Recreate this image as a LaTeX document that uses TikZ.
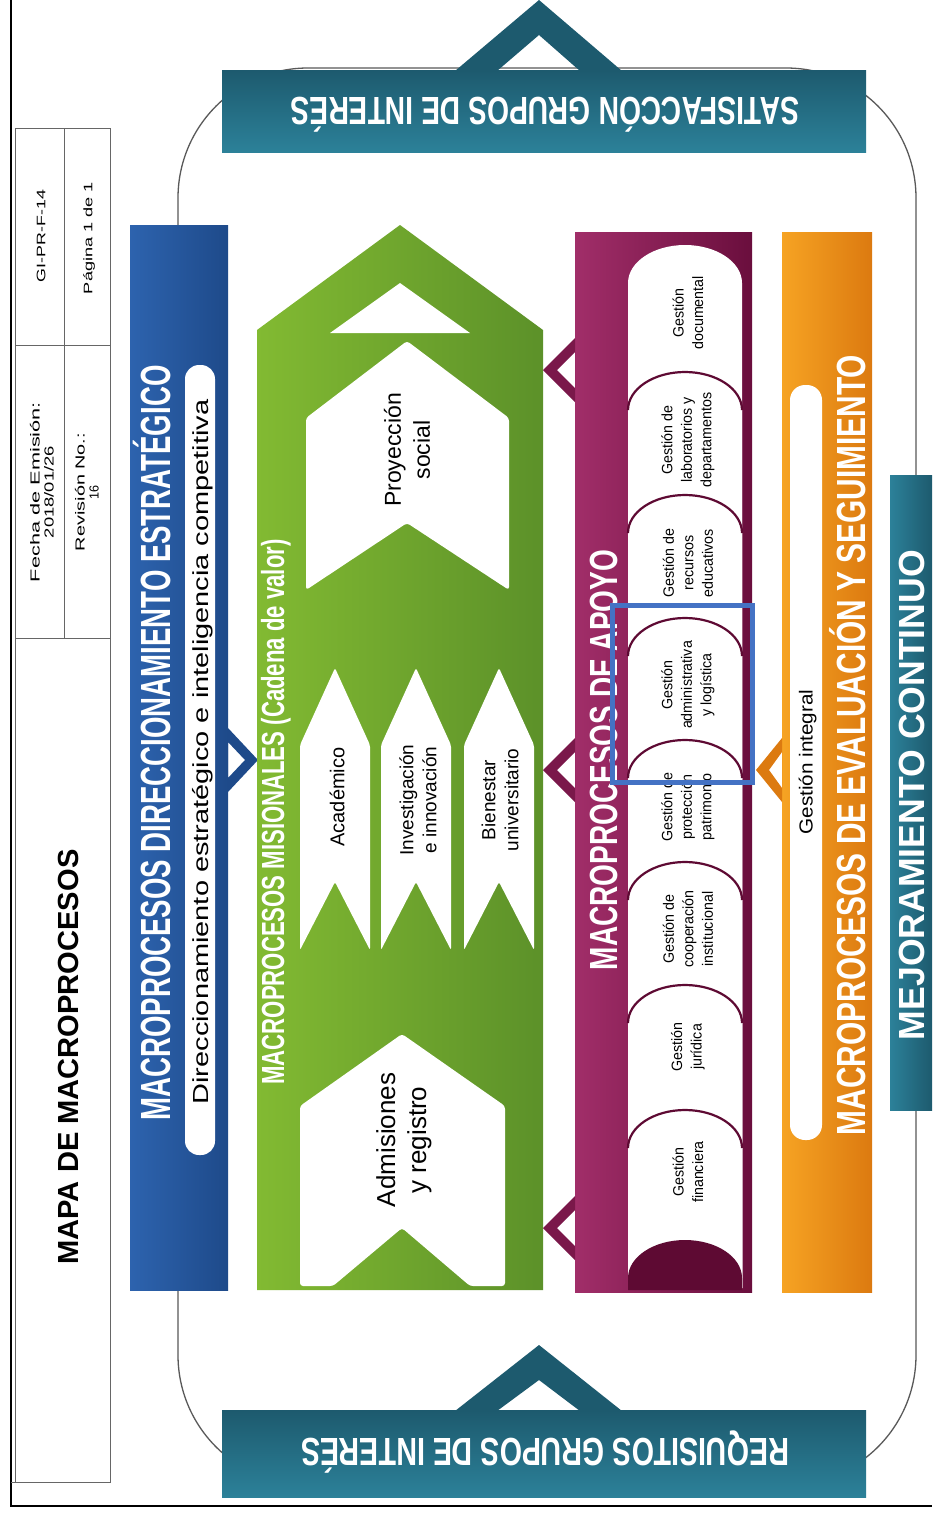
\documentclass[tikz,border=0pt]{standalone}
\usepackage{fontspec}
\usepackage{graphicx}
\setmainfont{Liberation Sans}
\newfontfamily\cnd[FakeStretch=0.72]{Liberation Sans}
\newfontfamily\cnp[FakeStretch=0.82]{Liberation Sans}
\newfontfamily\cnq[FakeStretch=0.95]{Liberation Sans}
\newcommand\capfit[3]{\resizebox{#1}{#2}{\rule{0pt}{\fontcharht\font`X}\smash{#3}}}
\definecolor{bluL}{HTML}{2D63AE}
\definecolor{bluR}{HTML}{1E4A8A}
\definecolor{tealA}{HTML}{1D5A6E}
\definecolor{tealB}{HTML}{2C8199}
\definecolor{grnL}{HTML}{82BA32}
\definecolor{grnR}{HTML}{5C9129}
\definecolor{magL}{HTML}{A12E69}
\definecolor{magR}{HTML}{6A0E3D}
\definecolor{magD}{HTML}{5E0A33}
\definecolor{orgL}{HTML}{F6A323}
\definecolor{orgR}{HTML}{DC7A10}
\definecolor{hlb}{HTML}{4472C4}
\begin{document}
\begin{tikzpicture}[x=1pt,y=1pt,
  ttl/.style={rotate=90,text=white,font=\cnd\bfseries,inner sep=0pt},
  ttlh/.style={rotate=180,text=white,font=\cnd\bfseries,inner sep=0pt},
  lbl/.style={rotate=90,align=center,inner sep=0pt},
  pilltxt/.style={rotate=90,align=center,inner sep=0pt,font=\cnq\fontsize{15}{19.5}\selectfont},
  tline/.style={draw=black!60,line width=0.8pt},
  chev/.style={even odd rule}]

\useasboundingbox (0,0) rectangle (932,-1513);
\fill[white] (0,0) rectangle (932,-1513);

% loop outline
\draw[black!65,line width=1.3pt,rounded corners=130pt] (178,-68) rectangle (916,-1485);

% frame
\draw[black,line width=1.2pt] (11,0) -- (11,-1506) -- (932,-1506);

% header table
\draw[tline] (15,-1482) -- (15,-128) -- (110,-128) -- (110,-1482) -- (11,-1482);
\draw[tline] (15,-345) -- (110,-345);
\draw[tline] (15,-638) -- (110,-638);
\draw[tline] (64,-128) -- (64,-638);
\node[lbl,font=\fontsize{11}{14}\selectfont] (code) at (41,-236) {\capfit{92pt}{8.5pt}{GI-PR-F-14}};
\node[lbl,font=\fontsize{11}{14}\selectfont] (pag) at (88,-238) {\capfit{112pt}{8.5pt}{Página 1 de 1}};
\node[lbl,font=\fontsize{11}{14}\selectfont] (fecha1) at (35,-492) {\capfit{180pt}{9pt}{Fecha de Emisión:}};
\node[lbl,font=\fontsize{11}{14}\selectfont] (fecha2) at (49,-492) {\capfit{92pt}{9pt}{2018/01/26}};
\node[lbl,font=\fontsize{11}{14}\selectfont] (rev1) at (80,-492) {\capfit{118pt}{9pt}{Revisión No.:}};
\node[lbl,font=\fontsize{11}{14}\selectfont] (rev2) at (94,-492) {\capfit{14pt}{9pt}{16}};
\node[lbl,font=\bfseries] (mapa) at (68,-1057) {\capfit{415pt}{20pt}{MAPA DE MACROPROCESOS}};

% top bar
\shade[top color=tealA,bottom color=tealB] (222,-70) rectangle (866,-152);
\fill[tealA,chev] (455,-71) -- (539,0) -- (622,-71) -- cycle (497,-71) -- (539,-35) -- (580,-71) -- cycle;
\node[ttlh] (sat) at (545,-111) {\capfit{508pt}{27pt}{SATISFACCÓN GRUPOS DE INTERÉS}};

% bottom bar
\shade[top color=tealA,bottom color=tealB] (222,-1410) rectangle (866,-1497);
\fill[tealA,chev] (455,-1411) -- (539,-1345) -- (622,-1411) -- cycle (497,-1411) -- (539,-1380) -- (580,-1411) -- cycle;
\node[ttlh] (req) at (545,-1452) {\capfit{488pt}{27pt}{REQUISITOS GRUPOS DE INTERÉS}};

% blue bar
\shade[left color=bluL,right color=bluR] (130,-225) rectangle (228,-1290);
\fill[white,rounded corners=14pt] (185,-365) rectangle (215,-1155);
\node[ttl] (dir) at (156,-743) {\capfit{755pt}{29pt}{MACROPROCESOS DIRECCIONAMIENTO ESTRATÉGICO}};
\node[lbl,font=\cnp] (dirsub) at (201,-752) {\capfit{705pt}{15pt}{Direccionamiento estratégico e inteligencia competitiva}};
\fill[bluR,chev] (228,-728) -- (258,-760) -- (228,-792) -- cycle (228,-742) -- (245,-760) -- (228,-778) -- cycle;

% green value chain
\shade[left color=grnL,right color=grnR] (257,-1290) -- (257,-330) -- (400,-225) -- (543,-330) -- (543,-1290) -- cycle;
\fill[white] (330,-333) -- (400,-283) -- (470,-333) -- cycle;
\fill[white,rounded corners=3pt] (306,-418) -- (407,-341) -- (509,-418) -- (509,-590) -- (407,-523) -- (306,-590) -- cycle;
\foreach \c in {335,416,499}{
  \fill[white,rounded corners=2pt] (\c-35,-745) -- (\c,-668) -- (\c+35,-745) -- (\c+35,-950) -- (\c,-882) -- (\c-35,-950) -- cycle;
}
\fill[white,rounded corners=3pt] (300,-1106) -- (402,-1034) -- (505,-1106) -- (505,-1286) -- (470,-1286) -- (402,-1228) -- (333,-1286) -- (300,-1286) -- cycle;
\node[ttl] (mis) at (273,-812) {\capfit{545pt}{22pt}{MACROPROCESOS MISIONALES (Cadena de valor)}};
\node[lbl,font=\fontsize{23}{29}\selectfont] (proy) at (407,-450) {Proyección\\social};
\node[lbl,font=\fontsize{20}{23}\selectfont] (acad) at (337,-797) {Académico};
\node[lbl,font=\fontsize{19}{23}\selectfont] (inv) at (418,-800) {Investigación\\e innovación};
\node[lbl,font=\fontsize{19}{23}\selectfont] (bien) at (500,-800) {Bienestar\\universitario};
\node[lbl,font=\fontsize{26}{31}\selectfont] (adm) at (404,-1140) {Admisiones\\y registro};

% magenta support
\shade[left color=magL,right color=magR] (575,-232) rectangle (752,-1292);
\foreach \y in {370,770,1228}{
  \fill[magR!70!magL,chev] (575,-\y+32) -- (543,-\y) -- (575,-\y-32) -- cycle (575,-\y+18) -- (557,-\y) -- (575,-\y-18) -- cycle;
}
\node[ttl] (apo) at (604,-760) {\capfit{420pt}{27pt}{MACROPROCESOS DE APOYO}};
\foreach \a [count=\i] in {245,372,495,618,740,862,985,1110}{
  \fill[white] (628,{-(\a+38)}) arc[start angle=180,end angle=0,x radius=57,y radius=38] -- (742,-1288) -- (628,-1288) -- cycle;
  \ifnum\i>1 \draw[magD,line width=2.2pt] (628,{-(\a+38)}) arc[start angle=180,end angle=0,x radius=57,y radius=38];\fi
}
\fill[magD] (628,-1278) arc[start angle=180,end angle=0,x radius=57,y radius=38] -- (742,-1290) -- (628,-1290) -- cycle;
\node[pilltxt] (p1) at (688,-313) {Gestión\\documental};
\node[pilltxt] (p2) at (688,-440) {Gestión de\\laboratorios y\\departamentos};
\node[pilltxt] (p3) at (688,-563) {Gestión de\\recursos\\educativos};
\node[pilltxt] (p4) at (688,-685) {Gestión\\administrativa\\y logística};
\node[pilltxt] (p5) at (688,-807) {Gestión de\\protección\\patrimonio};
\node[pilltxt] (p6) at (688,-929) {Gestión de\\cooperación\\institucional};
\node[pilltxt] (p7) at (688,-1047) {Gestión\\jurídica};
\node[pilltxt] (p8) at (688,-1172) {Gestión\\financiera};

% orange evaluation
\shade[left color=orgL,right color=orgR] (782,-232) rectangle (872,-1292);
\fill[white,rounded corners=15pt] (790,-385) rectangle (822,-1140);
\node[ttl] (eva) at (851,-745) {\capfit{780pt}{28pt}{MACROPROCESOS DE EVALUACIÓN Y SEGUIMIENTO}};
\node[lbl,font=\cnp] (gint) at (806,-762) {\capfit{145pt}{13pt}{Gestión integral}};
\fill[orgR,chev] (782,-738) -- (756,-770) -- (782,-802) -- cycle (782,-752) -- (769,-770) -- (782,-788) -- cycle;

% continuous improvement
\shade[left color=tealB,right color=tealA] (890,-475) rectangle (932,-1110);
\node[ttl] (mej) at (912,-795) {\capfit{490pt}{25pt}{MEJORAMIENTO CONTINUO}};

% highlight box
\draw[hlb,line width=5pt] (612,-605) rectangle (752,-782);
\end{tikzpicture}
\end{document}
